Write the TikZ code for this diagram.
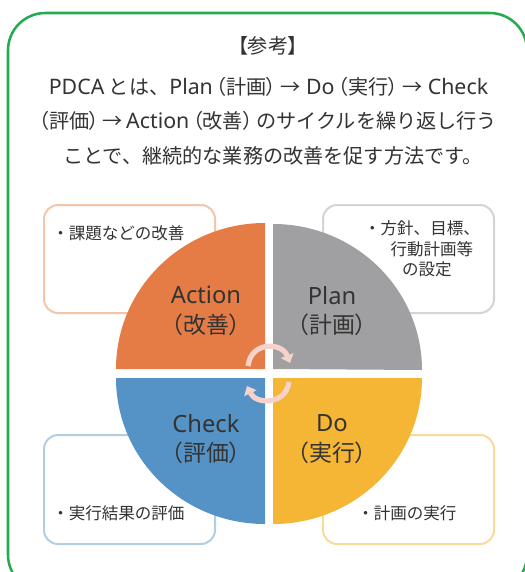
\documentclass[tikz,border=0pt]{standalone}
\usepackage{fontspec}
\setmainfont{Noto Sans CJK JP}
\newfontfamily\palf{Noto Sans CJK JP}[RawFeature=+palt]
\newfontfamily\latf{Noto Sans}
\newcommand{\lt}[1]{{\latf\fontsize{16}{16}\selectfont #1}}
\newcommand{\ltq}[1]{{\latf\fontsize{17.8}{22}\selectfont #1}}
\newcommand{\pl}[1]{{\palf #1}}
\usetikzlibrary{arrows.meta}
\definecolor{frameg}{HTML}{22AC4E}
\definecolor{actc}{HTML}{E67C45}
\definecolor{planc}{HTML}{A0A0A2}
\definecolor{doc}{HTML}{F5B535}
\definecolor{chkc}{HTML}{5592C6}
\definecolor{txt}{HTML}{333333}
\definecolor{arc}{HTML}{F5D3CC}
\tikzset{
  lead/.style={font=\fontsize{15.1}{15.6}\selectfont, text=txt, inner sep=0pt, anchor=center},
  quad/.style={font=\palf\fontsize{17.2}{22}\selectfont, text=txt, align=center, inner sep=0pt, anchor=center},
  note/.style={font=\fontsize{12.4}{15.5}\selectfont, text=txt, align=center, inner sep=0pt},
  notebox/.style={line width=1.5pt, rounded corners=10.5pt},
  turn/.style={draw=arc, line width=3.9pt, -{Triangle[length=6pt,width=10pt]}},
  quarter/.style={x radius=111.75pt, y radius=109.5pt},
}
\begin{document}
\begin{tikzpicture}[x=0.75pt,y=-0.75pt]
\useasboundingbox (0,0) rectangle (525,572);
\fill[white] (0,0) rectangle (525,572);
\begin{scope}
\clip (0,0) rectangle (525,572);
\draw[frameg, line width=1.9pt, rounded corners=28pt] (8,13) rectangle (527,592);
\end{scope}
\node[lead] (title) at (268,46) {\pl{【参考】}};
\node[lead] (l1) at (268.5,87) {\lt{PDCA} とは、\lt{Plan}\,\pl{（}計画\pl{）}\hspace{3pt}\pl{→}\hspace{4pt}\lt{Do}\,\pl{（}実行\pl{）}\hspace{3pt}\pl{→}\hspace{4pt}\lt{Check}};
\node[lead] (l2) at (268,121) {\pl{（}評価\pl{）}\,\pl{→}\,\lt{Action}\,\pl{（}改善\pl{）}\,のサイクルを繰り返し行う};
\node[lead] (l3) at (273,156) {ことで、継続的な業務の改善を促す方法です。};
\draw[notebox, draw=actc!45] (44,205) rectangle (215,313);
\draw[notebox, draw=planc!45] (323,205) rectangle (494,313);
\draw[notebox, draw=chkc!45] (44,435) rectangle (215,544);
\draw[notebox, draw=doc!50] (323,435) rectangle (494,544);
\draw[planc!50, line width=0.5pt] (370,262) -- (370,277) -- (388,277);
\fill[actc] (265,369) -- (116,369) arc[start angle=180, end angle=90, quarter] -- cycle;
\fill[planc] (273,369) -- (273,224) arc[start angle=90, end angle=0, quarter] -- cycle;
\fill[chkc] (265,378) -- (265,524) arc[start angle=270, end angle=180, quarter] -- cycle;
\fill[doc] (273,378) -- (422,378) arc[start angle=0, end angle=-90, quarter] -- cycle;
\node[quad] (act) at (206,311) {\ltq{Action}\\（改善）};
\node[quad] (pln) at (332,311) {\ltq{Plan}\\（計画）};
\node[quad] (chk) at (206,439) {\ltq{Check}\\（評価）};
\node[quad] (dod) at (332,439) {\ltq{Do}\\（実行）};
\node[note, anchor=west] (n1) at (52,233) {・課題などの改善};
\node[note] (n2) at (422,249) {・方針、目標、\\\hspace{1.2em}行動計画等\\\hspace{0.6em}の設定};
\node[note, anchor=west] (n3) at (52,513) {・実行結果の評価};
\node[note, anchor=west] (n4) at (357,513) {・計画の実行};
\draw[turn] (248,366) .. controls (251,341) and (282,342) .. (290,363);
\draw[turn] (289,382) .. controls (286,405) and (256,405) .. (247,386);
\end{tikzpicture}
\end{document}
